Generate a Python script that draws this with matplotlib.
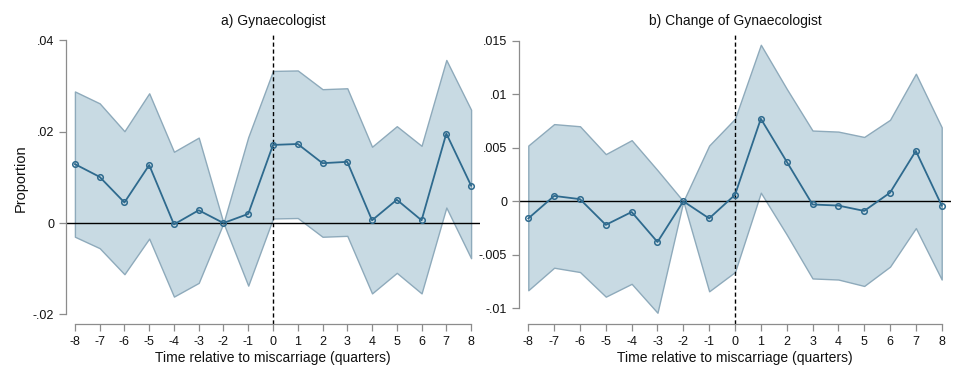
import numpy as np
import matplotlib
matplotlib.use('Agg')
import matplotlib.pyplot as plt

plt.rcParams['font.family'] = ['Liberation Sans', 'DejaVu Sans']

quarters = list(range(-8, 9))

# a) Gynaecologist
gyn_est = [0.0129, 0.0101, 0.0045, 0.0127, -0.0003, 0.0028, 0.0, 0.0020, 0.0171,
           0.0173, 0.0131, 0.0134, 0.0006, 0.0051, 0.0006, 0.0196, 0.0082]
gyn_hi = [0.0288, 0.0262, 0.0201, 0.0284, 0.0156, 0.0187, 0.0, 0.0188, 0.0333,
          0.0334, 0.0293, 0.0295, 0.0167, 0.0212, 0.0169, 0.0357, 0.0248]
gyn_lo = [-0.0030, -0.0055, -0.0112, -0.0034, -0.0161, -0.0131, 0.0, -0.0137, 0.0010,
          0.0011, -0.0030, -0.0028, -0.0154, -0.0109, -0.0154, 0.0034, -0.0077]

# b) Change of Gynaecologist
chg_est = [-0.0016, 0.0005, 0.0002, -0.0022, -0.0010, -0.0038, 0.0, -0.0016, 0.0006,
           0.0077, 0.0037, -0.0003, -0.0004, -0.0009, 0.0008, 0.0047, -0.0004]
chg_hi = [0.0052, 0.0072, 0.0070, 0.0044, 0.0057, 0.0029, 0.0, 0.0052, 0.0077,
          0.0146, 0.0105, 0.0066, 0.0065, 0.0060, 0.0076, 0.0119, 0.0069]
chg_lo = [-0.0083, -0.0062, -0.0066, -0.0089, -0.0077, -0.0104, 0.0, -0.0084, -0.0066,
          0.0008, -0.0031, -0.0072, -0.0073, -0.0079, -0.0061, -0.0025, -0.0073]

gyn_yticks = [-0.02, 0, 0.02, 0.04]
gyn_ylabels = ['-.02', '0', '.02', '.04']
chg_yticks = [-0.01, -0.005, 0, 0.005, 0.01, 0.015]
chg_ylabels = ['-.01', '-.005', '0', '.005', '.01', '.015']

FILL = '#c8dae3'
EDGE = '#8eaabb'
LINE = '#2e6a8e'
AXC = '#8c8c8c'


def draw_panel(ax, est, lo, hi, yticks, ylabels, ylim, title):
    ax.fill_between(quarters, lo, hi, facecolor=FILL, edgecolor=EDGE, linewidth=1.0, zorder=1)
    ax.axhline(0, color='black', linewidth=1.0, zorder=2)
    ax.axvline(0, color='black', linewidth=1.0, linestyle=(0, (3, 2)), zorder=2)
    ax.plot(quarters, est, color=LINE, linewidth=1.3, marker='o', markersize=4,
            markerfacecolor='none', markeredgecolor=LINE, markeredgewidth=1.1, zorder=3)
    ax.set_xlim(-8.36, 8.36)
    ax.set_ylim(*ylim)
    ax.set_xticks(quarters)
    ax.set_xticklabels([str(q) for q in quarters])
    ax.set_yticks(yticks)
    ax.set_yticklabels(ylabels)
    for s in ['top', 'right']:
        ax.spines[s].set_visible(False)
    ax.spines['left'].set_bounds(yticks[0], yticks[-1])
    ax.spines['bottom'].set_bounds(-8, 8)
    ax.spines['left'].set_color(AXC)
    ax.spines['bottom'].set_color(AXC)
    ax.spines['left'].set_linewidth(0.9)
    ax.spines['bottom'].set_linewidth(0.9)
    ax.tick_params(axis='both', colors=AXC, labelcolor='#111111', labelsize=9,
                   length=5, width=0.9, direction='out')
    ax.set_xlabel('Time relative to miscarriage (quarters)', fontsize=10, color='#111111', labelpad=2)
    ax.set_title(title, fontsize=10, color='#111111', pad=6)


fig = plt.figure(figsize=(9.6, 3.84), dpi=100)
W, H = 960.0, 384.0
ax1 = fig.add_axes([66 / W, 1 - 324 / H, (480 - 66) / W, (324 - 33) / H])
ax2 = fig.add_axes([519 / W, 1 - 324 / H, (951 - 519) / W, (324 - 33) / H])

draw_panel(ax1, gyn_est, gyn_lo, gyn_hi, gyn_yticks, gyn_ylabels, (-0.0221, 0.0416), 'a) Gynaecologist')
draw_panel(ax2, chg_est, chg_lo, chg_hi, chg_yticks, chg_ylabels, (-0.01145, 0.0157), 'b) Change of Gynaecologist')
ax1.set_ylabel('Proportion', fontsize=10.5, color='#111111', labelpad=4)

fig.savefig('out.png', dpi=100)
